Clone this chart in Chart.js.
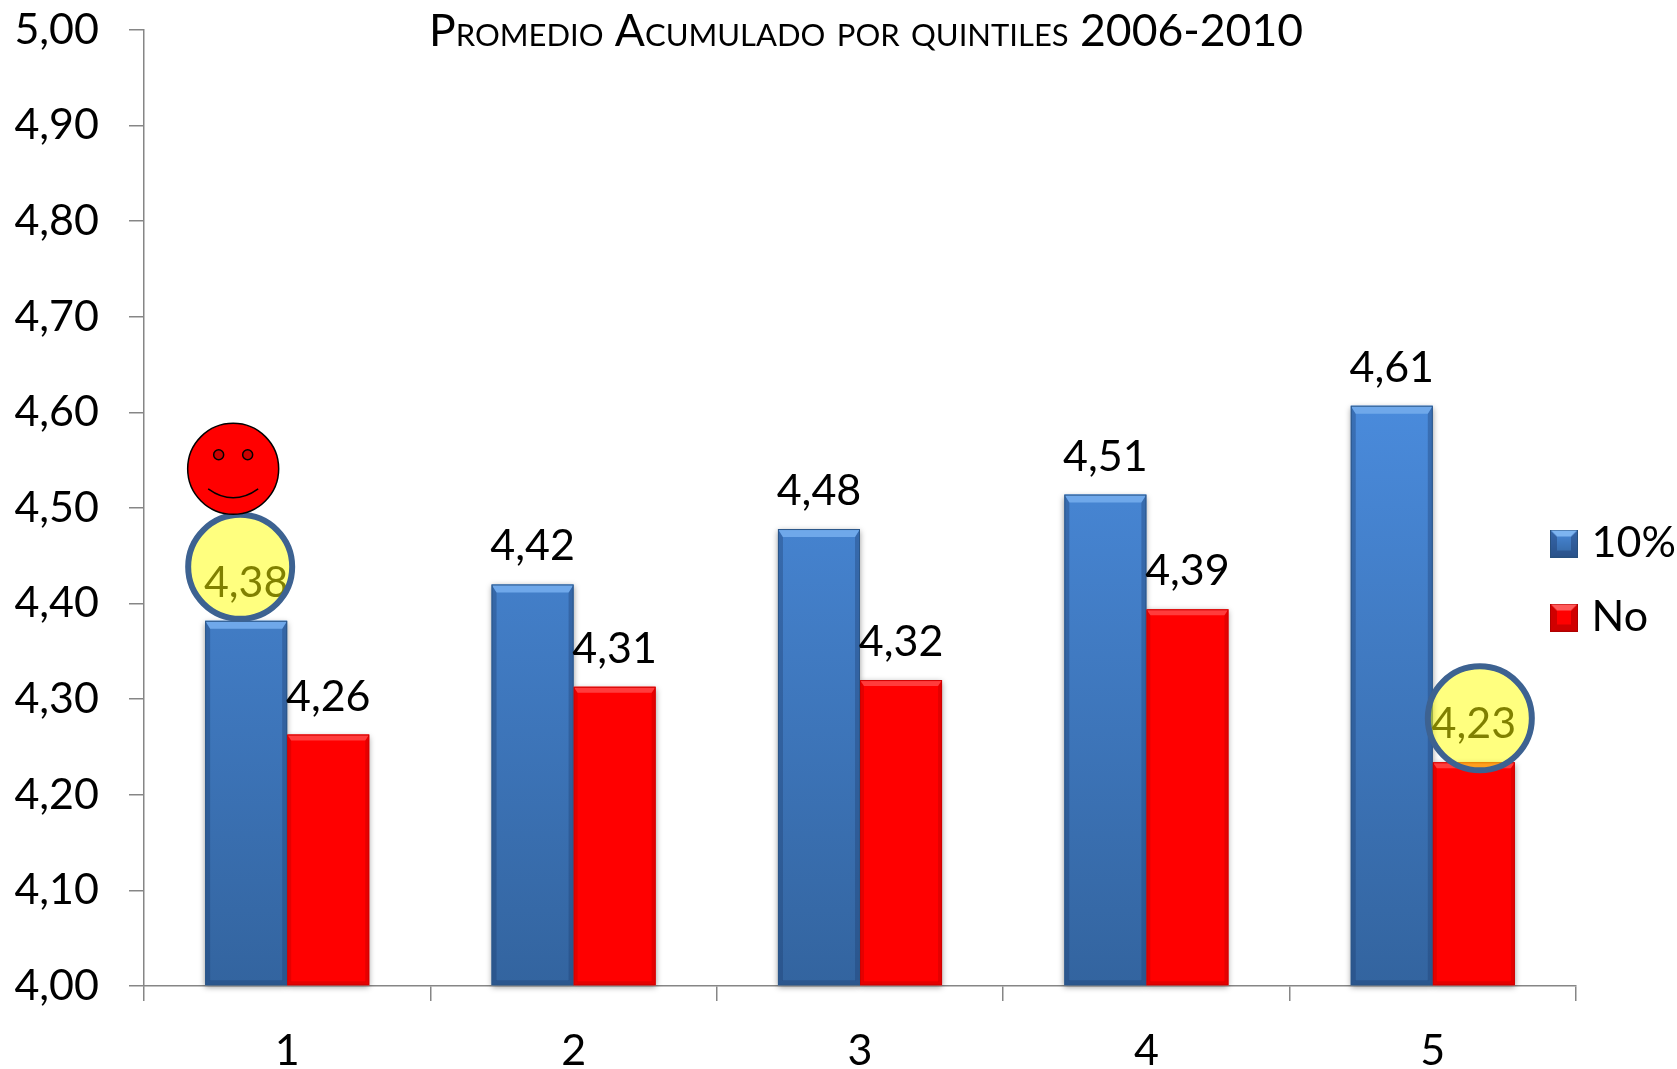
<!DOCTYPE html>
<html>
<head>
<meta charset="utf-8">
<style>
  html, body { margin: 0; padding: 0; background: #fff; }
  #wrap { width: 1677px; height: 1069px; }
</style>
<script src="https://cdn.jsdelivr.net/npm/chart.js@4"></script>
</head>
<body>
<div id="wrap"><canvas id="chart" width="1677" height="1069"></canvas></div>
<script>
const titulo = "Promedio Acumulado por quintiles 2006-2010";
const quintiles = ["1", "2", "3", "4", "5"];
const serie10 = [4.382, 4.42, 4.478, 4.514, 4.607];
const serieNo = [4.263, 4.313, 4.32, 4.394, 4.234];
const nombres = ["10%", "No"];
// circulos amarillos: [serie, quintil, desplazamiento desde el tope de la barra]
const resaltados = [[0, 0, -6, -54], [1, 4, 6, -44]];

const fuente = "Lato, Carlito, sans-serif";
const coma = v => v.toFixed(2).replace(".", ",");

function gradAzul(ctx, y0, y1) {
  const g = ctx.createLinearGradient(0, y0, 0, y1);
  g.addColorStop(0, "#4a8bdc");
  g.addColorStop(1, "#33649f");
  return g;
}

// biselado de las barras: franja clara arriba, bordes laterales oscuros
function bisel(ctx, x0, y0, x1, y1, claro, oscuro, linea, bt, bs) {
  ctx.save();
  ctx.fillStyle = oscuro;
  ctx.beginPath();
  ctx.moveTo(x0, y1); ctx.lineTo(x1, y1); ctx.lineTo(x1 - bs, y1 - bs); ctx.lineTo(x0 + bs, y1 - bs);
  ctx.closePath(); ctx.fill();
  ctx.beginPath();
  ctx.moveTo(x0, y0); ctx.lineTo(x0 + bs, y0 + bt); ctx.lineTo(x0 + bs, y1 - bs); ctx.lineTo(x0, y1);
  ctx.closePath(); ctx.fill();
  ctx.beginPath();
  ctx.moveTo(x1, y0); ctx.lineTo(x1 - bs, y0 + bt); ctx.lineTo(x1 - bs, y1 - bs); ctx.lineTo(x1, y1);
  ctx.closePath(); ctx.fill();
  ctx.fillStyle = claro;
  ctx.beginPath();
  ctx.moveTo(x0, y0); ctx.lineTo(x1, y0); ctx.lineTo(x1 - bs, y0 + bt); ctx.lineTo(x0 + bs, y0 + bt);
  ctx.closePath(); ctx.fill();
  ctx.strokeStyle = linea;
  ctx.lineWidth = 1;
  ctx.strokeRect(x0 + 0.5, y0 + 0.5, x1 - x0 - 1, y1 - y0 - 1);
  ctx.restore();
}

function cuadroLeyenda(i) {
  const c = document.createElement("canvas");
  c.width = 28; c.height = 28;
  const x = c.getContext("2d");
  x.fillStyle = i === 0 ? gradAzul(x, 0, 28) : "#ff0000";
  x.fillRect(0, 0, 28, 28);
  bisel(x, 0, 0, 28, 28, i === 0 ? "#7db4f0" : "#ff5a5a", i === 0 ? "rgba(30,60,110,0.45)" : "rgba(170,0,0,0.55)",
    i === 0 ? "#27507f" : "#b00000", 7, 7);
  return c;
}

const adornos = {
  id: "adornos",
  afterLayout(chart) {
    // la leyenda va fija a la derecha del area
    chart.legend.left = 1527;
    chart.legend.top = 491;
  },
  beforeDatasetsDraw(chart) {
    // sombra suave bajo las barras
    const ctx = chart.ctx;
    ctx.save();
    ctx.shadowColor = "rgba(0,0,0,0.4)";
    ctx.shadowBlur = 6;
    ctx.shadowOffsetY = 2;
    ctx.fillStyle = "#fff";
    chart.data.datasets.forEach((d, s) => {
      chart.getDatasetMeta(s).data.forEach(b => {
        ctx.fillRect(b.x - b.width / 2, b.y, b.width, b.base - b.y);
      });
    });
    ctx.restore();
  },
  afterDatasetsDraw(chart) {
    const ctx = chart.ctx;
    chart.data.datasets.forEach((d, s) => {
      chart.getDatasetMeta(s).data.forEach(b => {
        const x0 = b.x - b.width / 2, x1 = b.x + b.width / 2;
        if (s === 0) bisel(ctx, x0, b.y, x1, b.base, "#6fa8ea", "rgba(30,60,110,0.35)", "#2b5688", 8, 5);
        else bisel(ctx, x0, b.y, x1, b.base, "#ff3c3c", "rgba(170,0,0,0.3)", "#d00000", 6, 4);
      });
    });
    // etiquetas de datos
    ctx.save();
    ctx.font = "43px " + fuente;
    ctx.fillStyle = "#000";
    ctx.textAlign = "center";
    ctx.textBaseline = "alphabetic";
    chart.data.datasets.forEach((d, s) => {
      chart.getDatasetMeta(s).data.forEach((b, i) => {
        ctx.fillText(coma(d.data[i]), b.x, b.y - 24);
      });
    });
    ctx.restore();
    // circulos de resalte encima de la etiqueta
    resaltados.forEach(([s, i, dx, dy]) => {
      const b = chart.getDatasetMeta(s).data[i];
      ctx.save();
      ctx.beginPath();
      ctx.arc(b.x + dx, b.y + dy, 52, 0, Math.PI * 2);
      ctx.fillStyle = "rgba(255,255,0,0.5)";
      ctx.fill();
      ctx.lineWidth = 6;
      ctx.strokeStyle = "#3d6291";
      ctx.stroke();
      ctx.restore();
    });
    // carita sobre la primera barra
    const b = chart.getDatasetMeta(0).data[0];
    const cx = b.x - 13, cy = b.y - 152;
    ctx.save();
    ctx.strokeStyle = "#000";
    ctx.lineWidth = 1.5;
    ctx.fillStyle = "#ff0000";
    ctx.beginPath(); ctx.arc(cx, cy, 45.5, 0, Math.PI * 2); ctx.fill(); ctx.stroke();
    ctx.fillStyle = "#cc0000";
    [-14.5, 14.5].forEach(d => {
      ctx.beginPath(); ctx.arc(cx + d, cy - 14, 5, 0, Math.PI * 2); ctx.fill(); ctx.stroke();
    });
    ctx.beginPath();
    ctx.moveTo(cx - 25, cy + 20);
    ctx.quadraticCurveTo(cx, cy + 38, cx + 25, cy + 20);
    ctx.stroke();
    ctx.restore();
  },
  afterDraw(chart) {
    const ctx = chart.ctx;
    ctx.save();
    ctx.font = "small-caps 44.5px " + fuente;
    ctx.fillStyle = "#000";
    ctx.textAlign = "center";
    ctx.textBaseline = "alphabetic";
    ctx.fillText(titulo, 866, 46);
    ctx.restore();
  }
};

const ctx = document.getElementById("chart").getContext("2d");
const azul = gradAzul(ctx, 400, 986);

new Chart(ctx, {
  type: "bar",
  data: {
    labels: quintiles,
    datasets: [
      { label: nombres[0], data: serie10, base: 4, backgroundColor: azul, pointStyle: cuadroLeyenda(0) },
      { label: nombres[1], data: serieNo, base: 4, backgroundColor: "#ff0000", pointStyle: cuadroLeyenda(1) }
    ]
  },
  plugins: [adornos],
  options: {
    responsive: false,
    animation: false,
    datasets: { bar: { categoryPercentage: 0.573, barPercentage: 1 } },
    layout: { padding: { top: 30, right: 0, bottom: 0, left: 0 } },
    plugins: {
      title: { display: false },
      tooltip: { enabled: false },
      legend: {
        position: "right",
        align: "start",
        maxWidth: 101,
        labels: {
          usePointStyle: true,
          pointStyleWidth: 12,
          boxHeight: 28,
          padding: 31,
          color: "#000",
          font: { family: fuente, size: 43 },
          generateLabels(chart) {
            return chart.data.datasets.map((d, i) => ({
              text: d.label, pointStyle: d.pointStyle, datasetIndex: i, fontColor: "#000",
              lineWidth: 0, strokeStyle: "transparent", fillStyle: "transparent"
            }));
          }
        }
      }
    },
    scales: {
      x: {
        afterFit(a) { a.height = 83; a.paddingLeft = 0; a.paddingRight = 0; },
        border: { color: "#868686", width: 1.5 },
        grid: { drawOnChartArea: false, color: "#868686", lineWidth: 1.5, tickLength: 15 },
        ticks: { color: "#000", padding: 24, font: { family: fuente, size: 43 } }
      },
      y: {
        min: 4, max: 5,
        afterFit(a) { a.width = 144; a.paddingTop = 0; a.paddingBottom = 0; },
        border: { color: "#868686", width: 1.5 },
        grid: { drawOnChartArea: false, color: "#868686", lineWidth: 1.5, tickLength: 15 },
        ticks: {
          color: "#000",
          stepSize: 0.1,
          padding: 30,
          font: { family: fuente, size: 43 },
          callback: v => coma(v)
        }
      }
    }
  }
});
</script>
</body>
</html>
